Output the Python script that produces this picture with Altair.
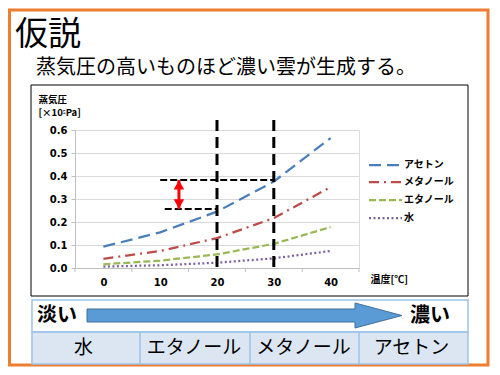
import altair as alt
import pandas as pd

# ---- data ----
temps = [0, 10, 20, 30, 40]
acetone = [0.093, 0.155, 0.245, 0.376, 0.565]
methanol = [0.040, 0.074, 0.130, 0.217, 0.352]
ethanol = [0.016, 0.032, 0.059, 0.105, 0.178]
water = [0.006, 0.012, 0.023, 0.042, 0.074]
series_names = ["アセトン", "メタノール", "エタノール", "水"]
series_colors = ["#4A7EBB", "#BE4B48", "#98B954", "#7D60A0"]
series_dashes = [[12, 6], [10, 5, 2, 5], [7, 3], [2, 2.5]]
y_ticks = [0.0, 0.1, 0.2, 0.3, 0.4, 0.5, 0.6]
category_edges = [-5, 5, 15, 25, 35, 45]
marker_temps = [20, 30]
guide_start = [10, 10.8]
guide_end = [30, 20]
guide_level = [0.383, 0.257]
arrow_temp = 13.3
arrow_low = 0.257
arrow_high = 0.383
title_text = "仮説"
subtitle_text = "蒸気圧の高いものほど濃い雲が生成する。"
low_text = "淡い"
high_text = "濃い"
table_labels = ["水", "エタノール", "メタノール", "アセトン"]

JP = "Noto Sans CJK JP"
NUM = "DejaVu Sans"

rows = []
for name, vals in zip(series_names, [acetone, methanol, ethanol, water]):
    for t, v in zip(temps, vals):
        rows.append({"series": name, "temp": t, "p": v})
df = pd.DataFrame(rows)

W, H = 284, 138
xscale = alt.Scale(domain=[-5, 45], nice=False, zero=False)
yscale = alt.Scale(domain=[0, 0.6], nice=False)
cscale = alt.Scale(domain=series_names, range=series_colors)
dscale = alt.Scale(domain=series_names, range=series_dashes)

xaxis = alt.Axis(values=temps, tickCount=5, format="d", ticks=False, grid=False,
                 domainColor="#BFBFBF", labelFont=NUM, labelFontWeight="bold",
                 labelFontSize=10, labelColor="#000", labelPadding=9,
                 title="温度[℃]", titleX=295, titleY=11, titleAlign="left",
                 titleBaseline="middle", titleFont=JP, titleFontWeight="bold",
                 titleFontSize=10, titleColor="#000")
yaxis = alt.Axis(values=y_ticks, tickCount=7, format=".1f", grid=True, gridColor="#D9D9D9",
                 domainColor="#BFBFBF", tickColor="#BFBFBF", tickSize=4,
                 labelOverlap=False,
                 labelFont=NUM, labelFontWeight="bold", labelFontSize=10,
                 labelColor="#000", labelPadding=4,
                 title=["蒸気圧", "[×10⁵Pa]"], titleAngle=0, titleX=-37, titleY=-36,
                 titleAlign="left", titleBaseline="top", titleLineHeight=13,
                 titleFont=JP, titleFontWeight="bold", titleFontSize=9.5,
                 titleColor="#000")

lines = alt.Chart(df).mark_line(strokeWidth=2.25).encode(
    x=alt.X("temp:Q", scale=xscale, axis=xaxis),
    y=alt.Y("p:Q", scale=yscale, axis=yaxis),
    color=alt.Color("series:N", scale=cscale, legend=None),
    strokeDash=alt.StrokeDash("series:N", scale=dscale, legend=None),
    order=alt.Order("temp:Q"),
)

# manual legend
ldf = pd.DataFrame({"series": series_names, "ly": [35, 52, 70, 88]})
leg_lines = alt.Chart(ldf).mark_rule(strokeWidth=2.25).encode(
    x=alt.value(294), x2=alt.value(327), y=alt.Y("ly:Q", scale=None),
    color=alt.Color("series:N", scale=cscale, legend=None),
    strokeDash=alt.StrokeDash("series:N", scale=dscale, legend=None))
leg_text = alt.Chart(ldf).mark_text(font=JP, fontSize=10, fontWeight="bold", align="left",
                                    baseline="middle", color="#000").encode(
    x=alt.value(329), y=alt.Y("ly:Q", scale=None), text="series:N")

ticks = alt.Chart(pd.DataFrame({"temp": category_edges})).mark_rule(color="#BFBFBF").encode(
    x=alt.X("temp:Q", scale=xscale, axis=xaxis), y=alt.value(H), y2=alt.value(H + 4))

vlines = alt.Chart(pd.DataFrame({"temp": marker_temps})).mark_rule(
    color="#000", strokeWidth=3, strokeDash=[11, 6]).encode(
    x=alt.X("temp:Q", scale=xscale, axis=xaxis), y=alt.value(-10), y2=alt.value(141))

hdf = pd.DataFrame({"temp": guide_start, "b": guide_end, "p": guide_level})
hlines = alt.Chart(hdf).mark_rule(color="#000", strokeWidth=2, strokeDash=[7, 3]).encode(
    x=alt.X("temp:Q", scale=xscale, axis=xaxis), x2="b:Q",
    y=alt.Y("p:Q", scale=yscale, axis=yaxis))

adf = pd.DataFrame({"temp": [arrow_temp], "p": [arrow_low], "hi": [arrow_high]})
arrow_shaft = alt.Chart(adf).mark_rule(color="#FF0000", strokeWidth=3).encode(
    x=alt.X("temp:Q", scale=xscale, axis=xaxis), y=alt.Y("p:Q", scale=yscale, axis=yaxis),
    y2="hi:Q")
arrow_top = alt.Chart(adf).mark_point(shape="triangle-up", filled=True, color="#FF0000",
                                      size=110, opacity=1).encode(
    x=alt.X("temp:Q", scale=xscale, axis=xaxis), y=alt.Y("hi:Q", scale=yscale, axis=yaxis),
    yOffset=alt.value(5))
arrow_bot = alt.Chart(adf).mark_point(shape="triangle-down", filled=True, color="#FF0000",
                                      size=110, opacity=1).encode(
    x=alt.X("temp:Q", scale=xscale, axis=xaxis), y=alt.Y("p:Q", scale=yscale, axis=yaxis),
    yOffset=alt.value(-5))

dummy = pd.DataFrame({"d": [0]})

def box(x, x2, y, y2, **kw):
    return alt.Chart(dummy).mark_rect(**kw).encode(
        x=alt.value(x), x2=alt.value(x2), y=alt.value(y), y2=alt.value(y2))

def label(txt, x, y, **kw):
    return alt.Chart(dummy).mark_text(text=txt, **kw).encode(x=alt.value(x), y=alt.value(y))

orange = box(-65.5, 413, -120, 235, fill="white", fillOpacity=0,
             stroke="#ED7D31", strokeWidth=3)
frame = box(-44, 393, -45, 166, fill="white", fillOpacity=0, stroke="#000", strokeWidth=1)
row2 = box(-43, 393, 202, 234, fill="#DCE6F2", stroke="#9DC3E6", strokeWidth=1.5)
row1 = box(-43, 393, 170, 202, fill="white", fillOpacity=0, stroke="#9DC3E6", strokeWidth=1.5)
dividers = alt.Chart(pd.DataFrame({"xv": [65, 175, 284]})).mark_rule(
    color="#9DC3E6", strokeWidth=1.5).encode(
    x=alt.X("xv:Q", scale=None), y=alt.value(202), y2=alt.value(234))

arrow_path = ("M -1 -0.0413 L 0.7016 -0.0413 L 0.7016 -0.0794 L 1 0 "
              "L 0.7016 0.0794 L 0.7016 0.0413 L -1 0.0413 Z")
big_arrow = alt.Chart(dummy).mark_point(shape=arrow_path, filled=True, size=315 * 315,
                                        fill="#5B9BD5", stroke="#41719C", strokeWidth=1,
                                        opacity=1).encode(x=alt.value(169.5), y=alt.value(185.5))

t_title = label(title_text, -60, -95, font=JP, fontSize=33, align="left", baseline="middle",
                color="#000")
t_sub = label(subtitle_text, -39, -62, font=JP, fontSize=20, align="left", baseline="middle",
              color="#000")
t_low = label(low_text, -38, 186, font=JP, fontSize=20, fontWeight="bold", align="left",
              baseline="middle", color="#000")
t_high = label(high_text, 375, 186, font=JP, fontSize=20, fontWeight="bold", align="right",
               baseline="middle", color="#000")
tdf = pd.DataFrame({"lab": table_labels, "cx": [8.5, 119, 228.5, 336.5]})
t_table = alt.Chart(tdf).mark_text(font=JP, fontSize=19, baseline="middle", color="#000").encode(
    text="lab:N", x=alt.X("cx:Q", scale=None), y=alt.value(217.5))

chart = alt.layer(
    lines, orange, frame, row2, row1, dividers, big_arrow, t_title, t_sub, t_low, t_high, t_table,
    leg_lines, leg_text, ticks, vlines, hlines, arrow_shaft, arrow_top, arrow_bot,
).properties(
    width=W, height=H,
    autosize=alt.AutoSizeParams(type="none"),
    padding={"left": 67, "top": 122, "right": 484 - 67 - W, "bottom": 359 - 122 - H},
).configure_view(stroke=None).configure(background="white")

chart.save("out.html", embed_options={"renderer": "svg", "actions": False})
